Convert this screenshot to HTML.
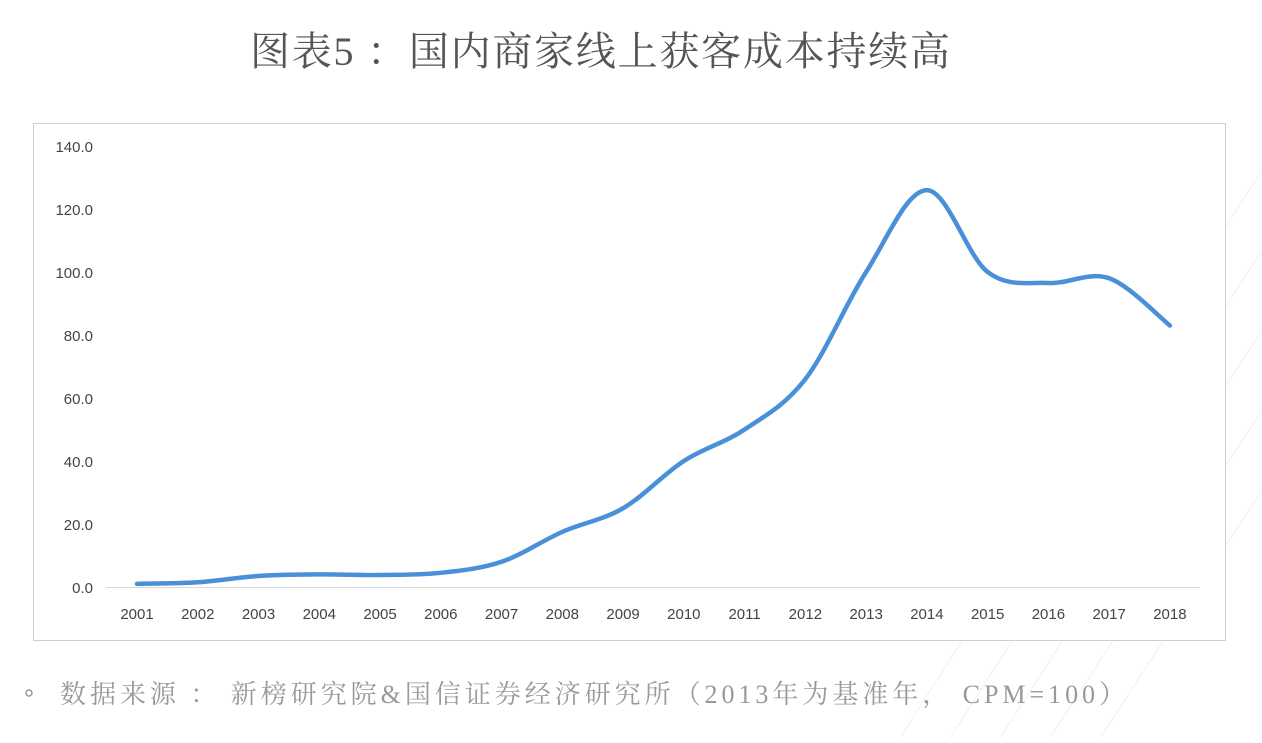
<!DOCTYPE html>
<html><head><meta charset="utf-8"><style>
body{margin:0;width:1262px;height:738px;background:#fff;overflow:hidden;font-family:"Liberation Sans","Noto Sans CJK SC",sans-serif;}
</style></head><body>
<svg width="1262" height="738" xmlns="http://www.w3.org/2000/svg">
<g stroke="#f0f0f0" stroke-width="1">
<line x1="1262" y1="170" x2="900" y2="738"/><line x1="1262" y1="250" x2="950" y2="738"/><line x1="1262" y1="330" x2="1000" y2="738"/><line x1="1262" y1="410" x2="1050" y2="738"/><line x1="1262" y1="490" x2="1100" y2="738"/>
</g>
<text x="250" y="65" textLength="700" lengthAdjust="spacing" font-size="40" fill="#555" font-family="Liberation Serif,Noto Serif CJK SC,serif">图表5 ：国内商家线上获客成本持续高</text>
<rect x="33.5" y="123.5" width="1192" height="517" fill="#fff" stroke="#cfcfcf"/>
<line x1="106" y1="587.5" x2="1200" y2="587.5" stroke="#d9d9d9"/>
<g font-size="15" fill="#444" text-anchor="end">
<text x="93" y="152">140.0</text><text x="93" y="215">120.0</text><text x="93" y="278">100.0</text><text x="93" y="341">80.0</text><text x="93" y="404">60.0</text><text x="93" y="467">40.0</text><text x="93" y="530">20.0</text><text x="93" y="593">0.0</text>
</g>
<g id="xl" font-size="15" fill="#444" text-anchor="middle"></g>
<path id="ln" d="" fill="none" stroke="#4a90d9" stroke-width="4.5" stroke-linecap="round"/>
<circle cx="29" cy="693" r="3" fill="#fff" stroke="#999" stroke-width="1.5"/>
<text x="60" y="703" textLength="1065" lengthAdjust="spacing" font-size="26" fill="#999" font-family="Liberation Serif,Noto Serif CJK SC,serif">数据来源 ： 新榜研究院&amp;国信证券经济研究所（2013年为基准年， CPM=100）</text>
</svg>
<script>
var v=[1,1.5,3.5,4,3.8,4.5,8,17.5,25,40,50,66,100,126,100,96.5,98,83];
var p=v.map(function(a,i){return [137+i*60.76,587-a*3.15];});
var d="M"+p[0][0]+","+p[0][1];
for(var i=0;i<p.length-1;i++){var a=p[Math.max(i-1,0)],b=p[i],c=p[i+1],e=p[Math.min(i+2,p.length-1)];
d+=" C"+(b[0]+(c[0]-a[0])/6)+","+(b[1]+(c[1]-a[1])/6)+" "+(c[0]-(e[0]-b[0])/6)+","+(c[1]-(e[1]-b[1])/6)+" "+c[0]+","+c[1];}
document.getElementById("ln").setAttribute("d",d);
var g=document.getElementById("xl"),s="";
for(var i=0;i<18;i++){s+='<text x="'+(137+i*60.76)+'" y="619">'+(2001+i)+'</text>';}
g.innerHTML=s;
</script>
</body></html>
